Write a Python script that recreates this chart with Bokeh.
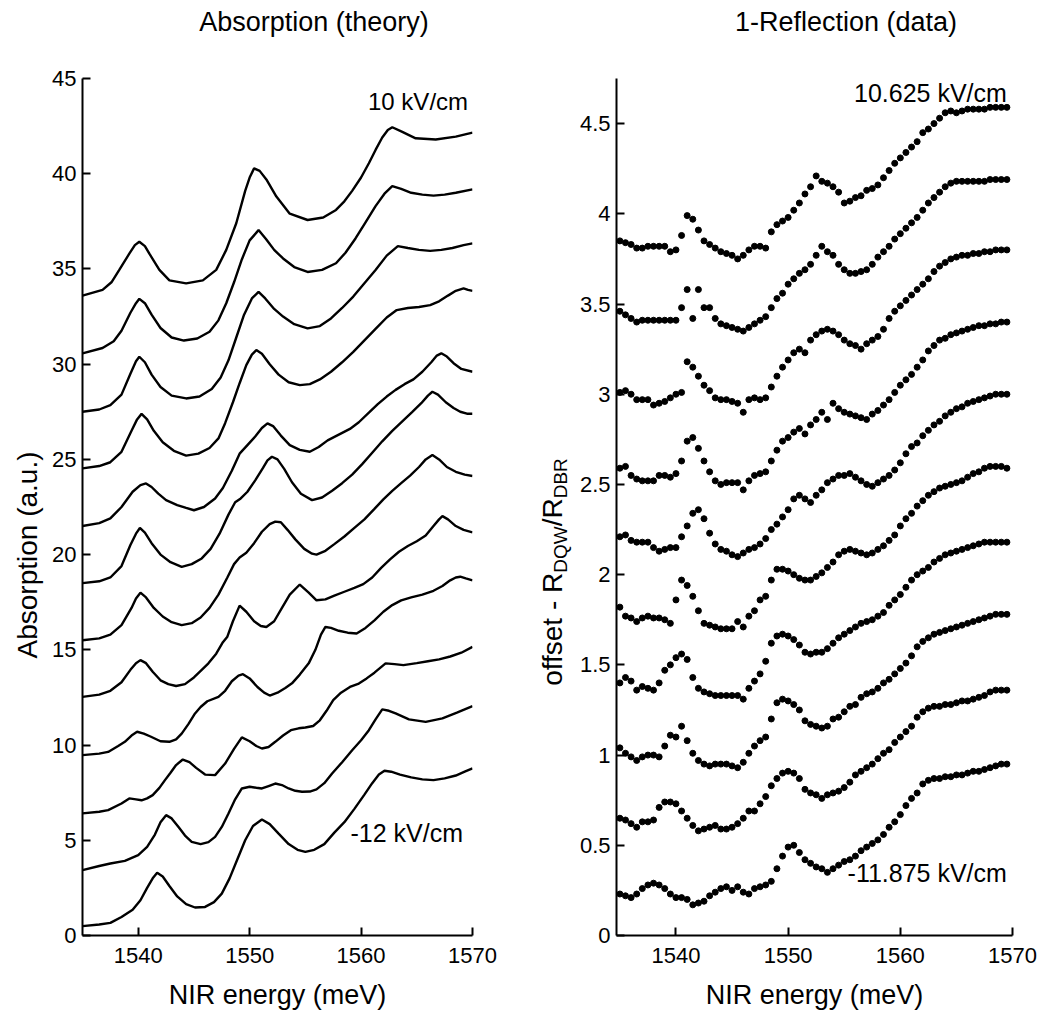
from bokeh.plotting import figure
from bokeh.layouts import row, column
from bokeh.models import Label, FixedTicker, CustomJSTickFormatter, Range1d, Div
from bokeh.embed import file_html
from bokeh.resources import INLINE

# ---------------- Left panel: Absorption (theory), 12 curves, bottom to top ----------------
th_E1 = [1535.0, 1536.5, 1537.5, 1538.5, 1539.5, 1540.2, 1540.8, 1541.3, 1541.7, 1542.2, 1542.8, 1543.5, 1544.3, 1545.1, 1546.0, 1546.8, 1547.5, 1548.2, 1548.9, 1549.6, 1550.3, 1551.1, 1551.8, 1552.6, 1553.5, 1554.3, 1555.0, 1555.8, 1556.7, 1557.6, 1558.5, 1559.4, 1560.3, 1561.0, 1561.6, 1562.1, 1562.7, 1563.5, 1564.5, 1565.5, 1566.5, 1567.5, 1568.5, 1569.3, 1570.0]
th_A1 = [0.49, 0.58, 0.66, 0.97, 1.35, 1.85, 2.5, 3.0, 3.29, 3.1, 2.6, 2.05, 1.65, 1.47, 1.50, 1.75, 2.2, 3.0, 4.0, 5.0, 5.75, 6.09, 5.85, 5.35, 4.8, 4.5, 4.39, 4.5, 4.8, 5.4, 5.95, 6.65, 7.4, 8.0, 8.45, 8.65, 8.6, 8.45, 8.3, 8.2, 8.16, 8.25, 8.4, 8.6, 8.77]

th_E2 = [1535.0, 1536.5, 1537.5, 1538.8, 1540.0, 1540.8, 1541.5, 1542.0, 1542.5, 1543.0, 1543.6, 1544.2, 1544.8, 1545.6, 1546.3, 1546.9, 1547.5, 1548.1, 1548.7, 1549.3, 1550.0, 1550.6, 1551.1, 1551.7, 1552.3, 1552.9, 1553.5, 1554.1, 1554.7, 1555.4, 1556.0, 1556.7, 1557.4, 1558.3, 1559.2, 1560.0, 1560.7, 1561.3, 1561.9, 1562.5, 1563.1, 1564.3, 1565.8, 1567.3, 1568.6, 1570.0]
th_A2 = [3.43, 3.65, 3.78, 3.92, 4.22, 4.65, 5.3, 5.95, 6.32, 6.15, 5.71, 5.25, 4.92, 4.8, 4.9, 5.18, 5.7, 6.41, 7.15, 7.72, 7.81, 7.76, 7.72, 7.85, 7.98, 7.9, 7.72, 7.6, 7.55, 7.56, 7.67, 8.0, 8.51, 9.1, 9.73, 10.25, 10.78, 11.35, 11.87, 11.8, 11.66, 11.35, 11.22, 11.4, 11.7, 12.04]

th_E3 = [1535.0, 1536.5, 1537.3, 1538.5, 1539.2, 1539.8, 1540.3, 1540.8, 1541.3, 1541.9, 1542.4, 1542.9, 1543.4, 1544.0, 1544.6, 1545.2, 1546.0, 1546.9, 1547.8, 1548.6, 1549.3, 1550.0, 1550.6, 1551.1, 1551.7, 1552.3, 1553.0, 1553.7, 1554.4, 1555.0, 1555.7, 1556.3, 1556.9, 1557.5, 1558.2, 1559.0, 1559.8, 1560.5, 1561.2, 1562.2, 1563.0, 1563.8, 1565.0, 1566.0, 1567.0, 1568.0, 1569.0, 1570.0]
th_A3 = [6.41, 6.5, 6.58, 6.93, 7.2, 7.15, 7.1, 7.2, 7.37, 7.75, 8.16, 8.55, 8.95, 9.24, 9.1, 8.8, 8.45, 8.42, 9.03, 9.8, 10.4, 10.2, 9.95, 9.82, 9.9, 10.17, 10.5, 10.78, 10.88, 10.92, 11.0, 11.3, 11.8, 12.36, 12.75, 13.05, 13.23, 13.5, 13.8, 14.29, 14.25, 14.2, 14.3, 14.4, 14.5, 14.65, 14.85, 15.16]

th_E4 = [1535.0, 1536.5, 1537.3, 1538.2, 1538.8, 1539.4, 1539.9, 1540.5, 1541.1, 1542.0, 1542.8, 1543.4, 1543.9, 1544.5, 1545.1, 1545.6, 1546.2, 1547.2, 1547.8, 1548.4, 1549.0, 1549.4, 1550.0, 1550.7, 1551.3, 1551.8, 1552.5, 1553.2, 1553.8, 1554.5, 1555.3, 1555.9, 1556.4, 1556.8, 1557.3, 1558.0, 1558.8, 1559.6, 1560.4, 1561.2, 1562.0, 1562.8, 1563.6, 1564.5, 1565.5, 1566.5, 1567.3, 1568.0, 1568.5, 1568.9, 1569.4, 1570.0]
th_A4 = [9.47, 9.55, 9.64, 9.95, 10.17, 10.5, 10.7, 10.6, 10.45, 10.2, 10.17, 10.3, 10.6, 11.1, 11.66, 12.0, 12.3, 12.53, 12.85, 13.35, 13.65, 13.72, 13.5, 13.05, 12.75, 12.6, 12.75, 13.0, 13.24, 13.7, 14.29, 15.0, 15.8, 16.2, 16.15, 16.0, 15.9, 15.86, 16.15, 16.55, 17.0, 17.35, 17.6, 17.75, 17.9, 18.1, 18.35, 18.65, 18.8, 18.84, 18.75, 18.65]

th_E5 = [1535.0, 1536.5, 1537.5, 1538.5, 1539.3, 1539.8, 1540.2, 1540.7, 1541.3, 1542.0, 1542.7, 1543.4, 1544.2, 1545.0, 1545.7, 1546.3, 1547.0, 1547.6, 1548.0, 1548.5, 1549.1, 1549.7, 1550.4, 1551.0, 1551.5, 1552.2, 1552.9, 1553.6, 1554.5, 1555.3, 1556.0, 1556.8, 1557.6, 1558.5, 1559.4, 1560.2, 1561.0, 1561.8, 1562.6, 1563.4, 1564.2, 1565.0, 1565.8, 1566.5, 1567.0, 1567.3, 1567.8, 1568.5, 1569.2, 1570.0]
th_A5 = [12.53, 12.65, 12.85, 13.3, 13.95, 14.3, 14.46, 14.3, 13.85, 13.4, 13.2, 13.1, 13.2, 13.55, 13.95, 14.29, 14.8, 15.4, 15.69, 16.5, 17.32, 17.0, 16.5, 16.25, 16.2, 16.5, 17.2, 17.9, 18.43, 18.0, 17.6, 17.65, 17.85, 18.05, 18.25, 18.45, 18.8, 19.3, 19.75, 20.15, 20.45, 20.7, 21.0, 21.5, 21.85, 22.02, 21.85, 21.5, 21.3, 21.17]

th_E6 = [1535.0, 1536.5, 1537.5, 1538.5, 1539.4, 1539.8, 1540.2, 1540.7, 1541.4, 1542.2, 1543.0, 1543.9, 1544.8, 1545.6, 1546.4, 1547.2, 1548.0, 1548.6, 1549.1, 1549.7, 1550.4, 1551.1, 1551.8, 1552.3, 1552.8, 1553.4, 1554.1, 1554.9, 1555.6, 1556.0, 1556.8, 1557.6, 1558.5, 1559.4, 1560.3, 1561.2, 1562.0, 1562.8, 1563.6, 1564.4, 1565.2, 1565.8, 1566.4, 1567.0, 1567.7, 1568.5, 1569.3, 1570.0]
th_A6 = [15.5, 15.6, 15.8, 16.3, 17.2, 17.7, 18.0, 17.75, 17.2, 16.75, 16.45, 16.3, 16.4, 16.7, 17.2, 17.9, 18.8, 19.5, 19.85, 20.1, 20.6, 21.2, 21.6, 21.73, 21.7, 21.3, 20.8, 20.3, 20.05, 20.0, 20.2, 20.55, 20.95, 21.4, 21.85, 22.4, 22.9, 23.35, 23.75, 24.15, 24.6, 25.0, 25.23, 25.0, 24.6, 24.35, 24.2, 24.13]

th_E7 = [1535.0, 1536.5, 1537.5, 1538.5, 1539.3, 1539.8, 1540.15, 1540.6, 1541.2, 1542.0, 1542.9, 1543.9, 1544.8, 1545.7, 1546.5, 1547.3, 1548.1, 1548.7, 1549.2, 1549.8, 1550.5, 1551.2, 1551.6, 1552.0, 1552.5, 1553.1, 1553.8, 1554.6, 1555.6, 1556.5, 1557.4, 1558.3, 1559.2, 1560.1, 1561.0, 1561.9, 1562.8, 1563.7, 1564.6, 1565.4, 1566.0, 1566.4, 1566.9, 1567.6, 1568.3, 1568.9, 1569.5, 1570.0]
th_A7 = [18.5, 18.6, 18.8, 19.4, 20.5, 21.1, 21.4, 21.15, 20.6, 20.0, 19.6, 19.36, 19.5, 19.8, 20.3, 21.1, 22.1, 22.75, 22.95, 23.3, 23.9, 24.55, 24.95, 25.14, 25.0, 24.5, 23.8, 23.2, 22.86, 23.0, 23.35, 23.75, 24.2, 24.75, 25.35, 25.95, 26.5, 27.0, 27.5, 27.95, 28.35, 28.55, 28.4, 28.0, 27.7, 27.5, 27.4, 27.4]

th_E8 = [1535.0, 1536.5, 1537.5, 1538.5, 1539.5, 1540.2, 1540.7, 1541.2, 1541.8, 1542.5, 1543.5, 1544.3, 1545.0, 1545.9, 1546.9, 1547.6, 1548.4, 1549.1, 1549.8, 1550.5, 1551.1, 1551.6, 1552.1, 1552.8, 1553.6, 1554.5, 1555.4, 1556.2, 1557.0, 1558.0, 1559.0, 1559.8, 1560.7, 1561.5, 1562.3, 1563.1, 1563.9, 1564.7, 1565.5, 1566.3, 1566.8, 1567.2, 1567.7, 1568.3, 1569.0, 1570.0]
th_A8 = [21.5, 21.65, 21.9, 22.5, 23.3, 23.65, 23.74, 23.55, 23.2, 22.86, 22.6, 22.45, 22.33, 22.5, 22.95, 23.5, 24.4, 25.3, 25.75, 26.2, 26.65, 26.89, 26.75, 26.25, 25.75, 25.5, 25.4, 25.65, 26.0, 26.3, 26.6, 26.95, 27.45, 27.9, 28.3, 28.65, 28.95, 29.2, 29.6, 30.1, 30.45, 30.57, 30.4, 30.05, 29.75, 29.6]

th_E9 = [1535.0, 1536.5, 1537.5, 1538.5, 1539.4, 1539.9, 1540.3, 1540.8, 1541.4, 1542.2, 1543.2, 1544.3, 1545.4, 1546.4, 1547.2, 1547.8, 1548.5, 1549.1, 1549.7, 1550.2, 1550.6, 1551.1, 1551.8, 1552.6, 1553.5, 1554.5, 1555.4, 1556.3, 1557.3, 1558.3, 1559.3, 1560.3, 1561.3, 1562.3, 1563.2, 1564.2, 1565.2, 1566.2, 1567.0, 1567.8, 1568.5, 1569.2, 1569.6, 1570.0]
th_A9 = [24.53, 24.65, 24.85, 25.4, 26.5, 27.1, 27.39, 27.1, 26.5, 25.9, 25.45, 25.2, 25.3, 25.6, 26.1, 26.9, 28.0, 29.0, 29.95, 30.5, 30.74, 30.55, 30.0, 29.45, 29.05, 28.9, 28.95, 29.2, 29.6, 30.1, 30.65, 31.25, 31.85, 32.45, 32.84, 32.95, 33.0, 33.1, 33.3, 33.6, 33.85, 33.98, 33.9, 33.85]

th_E10 = [1535.0, 1536.5, 1537.5, 1538.5, 1539.3, 1539.8, 1540.1, 1540.6, 1541.2, 1542.0, 1543.0, 1544.3, 1545.5, 1546.6, 1547.4, 1548.1, 1548.8, 1549.5, 1550.2, 1550.8, 1551.4, 1552.2, 1553.0, 1554.0, 1555.2, 1556.3, 1557.3, 1558.3, 1559.3, 1560.3, 1561.3, 1562.3, 1563.3, 1564.2, 1565.2, 1566.2, 1567.2, 1568.2, 1569.2, 1570.0]
th_A10 = [27.5, 27.62, 27.85, 28.4, 29.5, 30.15, 30.39, 30.1, 29.45, 28.8, 28.35, 28.2, 28.3, 28.7, 29.3, 30.2, 31.4, 32.6, 33.45, 33.8, 33.45, 32.9, 32.5, 32.1, 31.88, 32.0, 32.4, 32.95, 33.55, 34.25, 34.95, 35.7, 36.2, 36.1, 36.0, 35.95, 36.0, 36.1, 36.25, 36.34]

th_E11 = [1535.0, 1536.8, 1537.8, 1538.5, 1539.3, 1539.8, 1540.1, 1540.6, 1541.2, 1542.0, 1543.0, 1544.1, 1545.3, 1546.4, 1547.2, 1547.9, 1548.6, 1549.3, 1550.0, 1550.8, 1551.5, 1552.2, 1553.0, 1554.0, 1555.2, 1556.5, 1557.75, 1558.6, 1559.5, 1560.4, 1561.3, 1562.1, 1562.8, 1563.6, 1564.5, 1565.5, 1566.5, 1567.5, 1568.5, 1570.0]
th_A11 = [30.57, 30.85, 31.2, 31.75, 32.7, 33.2, 33.43, 33.2, 32.6, 31.9, 31.4, 31.24, 31.35, 31.7, 32.3, 33.2, 34.3, 35.5, 36.5, 37.04, 36.55, 36.0, 35.55, 35.1, 34.84, 34.95, 35.3, 35.85, 36.6, 37.45, 38.3, 38.95, 39.35, 39.2, 39.0, 38.9, 38.85, 38.9, 39.0, 39.18]

th_E12 = [1535.0, 1536.8, 1537.6, 1538.3, 1539.2, 1539.7, 1540.1, 1540.6, 1541.0, 1541.9, 1542.8, 1544.3, 1545.8, 1547.0, 1547.9, 1548.8, 1549.6, 1550.0, 1550.4, 1550.9, 1551.5, 1552.4, 1553.6, 1555.2, 1556.6, 1557.75, 1558.5, 1559.2, 1560.0, 1560.7, 1561.3, 1561.9, 1562.4, 1562.8, 1563.7, 1564.9, 1566.7, 1568.5, 1570.0]
th_A12 = [33.6, 33.9, 34.3, 34.95, 35.8, 36.25, 36.43, 36.2, 35.8, 34.95, 34.4, 34.24, 34.4, 34.95, 36.0, 37.4, 39.1, 39.8, 40.28, 40.15, 39.7, 38.8, 37.9, 37.57, 37.7, 38.1, 38.55, 39.1, 39.8, 40.55, 41.25, 41.9, 42.3, 42.44, 42.2, 41.86, 41.8, 41.95, 42.16]

theory_E = [th_E1, th_E2, th_E3, th_E4, th_E5, th_E6, th_E7, th_E8, th_E9, th_E10, th_E11, th_E12]
theory_A = [th_A1, th_A2, th_A3, th_A4, th_A5, th_A6, th_A7, th_A8, th_A9, th_A10, th_A11, th_A12]

left_yticks = [0, 5, 10, 15, 20, 25, 30, 35, 40, 45]
xticks = [1540, 1550, 1560, 1570]

# ---------------- Right panel: 1-Reflection (data), 10 series, bottom to top ----------------
refl_E = [1535.0 + 0.5 * i for i in range(70)]
refl_1 = [0.23, 0.22, 0.21, 0.23, 0.26, 0.28, 0.29, 0.28, 0.26, 0.23,
          0.21, 0.21, 0.20, 0.17, 0.18, 0.19, 0.22, 0.24, 0.26, 0.27,
          0.25, 0.27, 0.24, 0.23, 0.26, 0.27, 0.28, 0.30, 0.37, 0.44,
          0.49, 0.50, 0.46, 0.42, 0.40, 0.38, 0.37, 0.35, 0.37, 0.39,
          0.41, 0.42, 0.44, 0.47, 0.49, 0.51, 0.53, 0.56, 0.60, 0.63,
          0.67, 0.72, 0.76, 0.79, 0.84, 0.86, 0.87, 0.87, 0.88, 0.88,
          0.89, 0.89, 0.90, 0.91, 0.91, 0.92, 0.93, 0.94, 0.95, 0.95]
refl_2 = [0.65, 0.64, 0.62, 0.60, 0.63, 0.63, 0.64, 0.71, 0.74, 0.74,
          0.73, 0.69, 0.65, 0.61, 0.58, 0.59, 0.60, 0.61, 0.59, 0.59,
          0.60, 0.62, 0.65, 0.69, 0.69, 0.73, 0.77, 0.83, 0.87, 0.90,
          0.91, 0.90, 0.87, 0.81, 0.79, 0.78, 0.76, 0.78, 0.79, 0.80,
          0.82, 0.85, 0.89, 0.91, 0.93, 0.95, 0.98, 1.01, 1.03, 1.07,
          1.10, 1.13, 1.16, 1.21, 1.24, 1.26, 1.27, 1.27, 1.28, 1.28,
          1.29, 1.30, 1.30, 1.31, 1.32, 1.33, 1.35, 1.36, 1.36, 1.36]
refl_3 = [1.04, 1.01, 0.99, 0.97, 0.99, 1.00, 1.00, 0.99, 1.05, 1.11,
          1.10, 1.16, 1.08, 1.01, 0.97, 0.95, 0.94, 0.95, 0.95, 0.95,
          0.94, 0.93, 0.96, 1.01, 1.05, 1.08, 1.10, 1.20, 1.29, 1.31,
          1.30, 1.28, 1.25, 1.19, 1.17, 1.16, 1.15, 1.16, 1.20, 1.21,
          1.24, 1.27, 1.28, 1.32, 1.34, 1.35, 1.37, 1.40, 1.42, 1.45,
          1.48, 1.51, 1.55, 1.60, 1.63, 1.65, 1.67, 1.68, 1.69, 1.70,
          1.71, 1.72, 1.73, 1.74, 1.75, 1.76, 1.77, 1.78, 1.78, 1.78]
refl_4 = [1.40, 1.43, 1.41, 1.36, 1.38, 1.37, 1.36, 1.40, 1.47, 1.50,
          1.54, 1.56, 1.53, 1.43, 1.37, 1.35, 1.34, 1.33, 1.33, 1.33,
          1.33, 1.33, 1.31, 1.37, 1.41, 1.45, 1.52, 1.62, 1.66, 1.67,
          1.66, 1.64, 1.61, 1.57, 1.56, 1.57, 1.57, 1.59, 1.62, 1.65,
          1.67, 1.69, 1.71, 1.73, 1.74, 1.75, 1.77, 1.79, 1.83, 1.86,
          1.89, 1.93, 1.97, 2.00, 2.02, 2.04, 2.07, 2.09, 2.11, 2.12,
          2.13, 2.14, 2.15, 2.16, 2.17, 2.18, 2.18, 2.18, 2.18, 2.18]
refl_5 = [1.82, 1.77, 1.76, 1.74, 1.76, 1.77, 1.76, 1.76, 1.75, 1.73,
          1.86, 1.97, 1.94, 1.88, 1.80, 1.73, 1.72, 1.71, 1.70, 1.70,
          1.70, 1.74, 1.71, 1.77, 1.80, 1.86, 1.88, 1.97, 2.03, 2.03,
          2.02, 2.00, 1.98, 1.97, 1.97, 1.99, 2.01, 2.04, 2.07, 2.11,
          2.13, 2.14, 2.13, 2.12, 2.11, 2.12, 2.14, 2.16, 2.19, 2.22,
          2.27, 2.31, 2.34, 2.38, 2.41, 2.44, 2.46, 2.48, 2.49, 2.50,
          2.51, 2.52, 2.54, 2.56, 2.57, 2.59, 2.60, 2.60, 2.60, 2.59]
refl_6 = [2.21, 2.22, 2.19, 2.18, 2.18, 2.18, 2.15, 2.13, 2.14, 2.15,
          2.15, 2.21, 2.27, 2.34, 2.36, 2.31, 2.23, 2.17, 2.14, 2.13,
          2.11, 2.10, 2.12, 2.14, 2.15, 2.17, 2.20, 2.25, 2.28, 2.32,
          2.36, 2.42, 2.44, 2.42, 2.40, 2.44, 2.47, 2.51, 2.53, 2.55,
          2.55, 2.56, 2.54, 2.52, 2.50, 2.49, 2.51, 2.53, 2.55, 2.58,
          2.62, 2.67, 2.71, 2.73, 2.77, 2.80, 2.83, 2.85, 2.88, 2.90,
          2.92, 2.93, 2.95, 2.96, 2.97, 2.98, 2.99, 3.00, 3.00, 3.00]
refl_7 = [2.59, 2.60, 2.55, 2.53, 2.52, 2.52, 2.52, 2.55, 2.55, 2.54,
          2.56, 2.63, 2.74, 2.76, 2.70, 2.63, 2.57, 2.52, 2.50, 2.51,
          2.51, 2.51, 2.47, 2.52, 2.55, 2.56, 2.57, 2.63, 2.69, 2.74,
          2.76, 2.79, 2.81, 2.78, 2.83, 2.86, 2.90, 2.86, 2.95, 2.92,
          2.90, 2.89, 2.88, 2.87, 2.86, 2.89, 2.91, 2.94, 2.97, 3.01,
          3.05, 3.08, 3.11, 3.15, 3.19, 3.24, 3.27, 3.30, 3.31, 3.33,
          3.34, 3.35, 3.36, 3.37, 3.38, 3.38, 3.39, 3.39, 3.40, 3.40]
refl_8 = [3.01, 3.02, 3.00, 2.97, 2.97, 2.97, 2.94, 2.95, 2.96, 2.98,
          3.00, 3.01, 3.18, 3.15, 3.10, 3.05, 3.02, 2.98, 2.97, 2.97,
          2.96, 2.95, 2.90, 2.97, 2.98, 2.97, 2.98, 3.04, 3.10, 3.15,
          3.19, 3.23, 3.25, 3.23, 3.30, 3.33, 3.35, 3.36, 3.35, 3.33,
          3.30, 3.28, 3.27, 3.25, 3.28, 3.30, 3.32, 3.36, 3.42, 3.46,
          3.49, 3.52, 3.55, 3.58, 3.61, 3.64, 3.68, 3.71, 3.73, 3.75,
          3.76, 3.77, 3.77, 3.78, 3.78, 3.79, 3.79, 3.80, 3.80, 3.80]
refl_9 = [3.46, 3.44, 3.42, 3.40, 3.41, 3.41, 3.41, 3.41, 3.41, 3.41,
          3.41, 3.48, 3.58, 3.42, 3.58, 3.48, 3.48, 3.42, 3.39, 3.38,
          3.37, 3.36, 3.35, 3.37, 3.39, 3.41, 3.43, 3.48, 3.53, 3.56,
          3.61, 3.64, 3.67, 3.69, 3.72, 3.77, 3.82, 3.79, 3.77, 3.72,
          3.69, 3.67, 3.67, 3.68, 3.69, 3.72, 3.76, 3.79, 3.82, 3.86,
          3.89, 3.92, 3.95, 3.98, 4.02, 4.06, 4.09, 4.12, 4.15, 4.17,
          4.18, 4.18, 4.18, 4.18, 4.18, 4.18, 4.19, 4.19, 4.19, 4.19]
refl_10 = [3.85, 3.84, 3.83, 3.81, 3.81, 3.82, 3.82, 3.82, 3.82, 3.79,
           3.80, 3.88, 3.99, 3.97, 3.91, 3.85, 3.83, 3.81, 3.79, 3.78,
           3.77, 3.75, 3.77, 3.80, 3.82, 3.82, 3.81, 3.90, 3.94, 3.96,
           3.98, 4.02, 4.06, 4.11, 4.15, 4.21, 4.18, 4.17, 4.15, 4.12,
           4.06, 4.07, 4.09, 4.10, 4.13, 4.14, 4.16, 4.20, 4.24, 4.28,
           4.31, 4.34, 4.37, 4.40, 4.45, 4.47, 4.50, 4.53, 4.56, 4.57,
           4.56, 4.57, 4.58, 4.58, 4.58, 4.58, 4.59, 4.59, 4.59, 4.59]
reflection = [refl_1, refl_2, refl_3, refl_4, refl_5, refl_6, refl_7, refl_8, refl_9, refl_10]

right_yticks = [0, 0.5, 1, 1.5, 2, 2.5, 3, 3.5, 4, 4.5]

FONT = "Liberation Sans"
TOP = 44          # height of the title strip
H = 974           # height of the plotting row


def style_axes(p):
    p.xgrid.visible = False
    p.ygrid.visible = False
    p.outline_line_color = None
    p.background_fill_color = "white"
    p.border_fill_color = "white"
    for ax in (p.xaxis[0], p.yaxis[0]):
        ax.axis_line_width = 2
        ax.axis_line_color = "black"
        ax.major_tick_in = 8
        ax.major_tick_out = 0
        ax.minor_tick_in = 0
        ax.minor_tick_out = 0
        ax.major_tick_line_width = 2
        ax.major_tick_line_color = "black"
        ax.major_label_text_font = FONT
        ax.major_label_text_font_size = "22px"
        ax.major_label_text_color = "black"
    p.xaxis[0].ticker = FixedTicker(ticks=xticks)
    p.xaxis[0].major_label_standoff = 12
    p.yaxis[0].major_label_standoff = 6
    p.xaxis[0].axis_label = "NIR energy (meV)"
    p.xaxis[0].axis_label_text_font = FONT
    p.xaxis[0].axis_label_text_font_size = "27px"
    p.xaxis[0].axis_label_text_font_style = "normal"
    p.xaxis[0].axis_label_text_color = "black"
    p.xaxis[0].axis_label_standoff = 14


# ---------------- titles (HTML text strip) ----------------
title_html = (
    "<div style=\"font-family:'Liberation Sans'; font-size:27px; color:black; "
    "line-height:44px; height:44px; white-space:nowrap;\">"
    "<span style=\"display:inline-block; width:628px; text-align:center;\">Absorption (theory)</span>"
    "<span style=\"display:inline-block; width:412px; padding-left:24px; box-sizing:border-box; "
    "text-align:center;\">1-Reflection (data)</span></div>"
)
titles = Div(text=title_html, width=1040, height=TOP, margin=(0, 0, 0, 0))

# ---------------- left y label (rotated HTML text, x 0..45) ----------------
ylab_left_html = (
    "<div style=\"position:relative; left:14px; top:711px; width:400px; height:28px; "
    "line-height:28px; text-align:center; transform:rotate(-90deg); transform-origin:0 0; "
    "font-family:'Liberation Sans'; font-size:28px; color:black; white-space:nowrap;\">"
    "Absorption (a.u.)</div>"
)
ylab_left = Div(text=ylab_left_html, width=45, height=H, margin=(0, 0, 0, 0))

# ---------------- right y label with subscripts (x 530..576) ----------------
sub = "<span style=\"font-size:19px; vertical-align:-5px;\">{}</span>"
ylab_right_html = (
    "<div style=\"position:relative; left:9px; top:728px; width:400px; height:28px; "
    "line-height:28px; text-align:center; transform:rotate(-90deg); transform-origin:0 0; "
    "font-family:'Liberation Sans'; font-size:28px; color:black; white-space:nowrap;\">"
    "offset - R" + sub.format("DQW") + "/R" + sub.format("DBR") + "</div>"
)
ylab_right = Div(text=ylab_right_html, width=46, height=H, margin=(0, 0, 0, 0))

# ---------------- left figure (x 45..530) ----------------
left = figure(frame_width=390, frame_height=857,
              min_border_left=37, min_border_right=58, min_border_top=31, min_border_bottom=86,
              x_range=Range1d(1535, 1570), y_range=Range1d(0, 45),
              output_backend="svg", toolbar_location=None)
style_axes(left)
left.yaxis[0].ticker = FixedTicker(ticks=left_yticks)

for xs, ys in zip(theory_E, theory_A):
    left.line(xs, ys, line_color="black", line_width=2.4)

left.add_layout(Label(x=1569.6, y=43.79, text="10 kV/cm", text_font=FONT, text_color="black",
                      text_font_size="24px", text_align="right", text_baseline="middle"))
left.add_layout(Label(x=1559.05, y=5.36, text="-12 kV/cm", text_font=FONT, text_color="black",
                      text_font_size="25px", text_align="left", text_baseline="middle"))

# ---------------- right figure (x 576..1040) ----------------
right = figure(frame_width=396, frame_height=857,
               min_border_left=40, min_border_right=28, min_border_top=34, min_border_bottom=83,
               x_range=Range1d(1534.7, 1570), y_range=Range1d(0, 4.75),
               output_backend="svg", toolbar_location=None)
style_axes(right)
right.yaxis[0].ticker = FixedTicker(ticks=right_yticks)
right.yaxis[0].formatter = CustomJSTickFormatter(code="return tick.toString();")

for ys in reflection:
    right.scatter(refl_E, ys, size=6, fill_color="black", line_color="black")

right.add_layout(Label(x=1569.5, y=4.672, text="10.625 kV/cm", text_font=FONT, text_color="black",
                       text_font_size="25px", text_align="right", text_baseline="middle"))
right.add_layout(Label(x=1569.5, y=0.349, text="-11.875 kV/cm", text_font=FONT, text_color="black",
                       text_font_size="25px", text_align="right", text_baseline="middle"))

layout = column(titles, row(ylab_left, left, ylab_right, right))
open("out.html", "w").write(file_html(layout, INLINE))
